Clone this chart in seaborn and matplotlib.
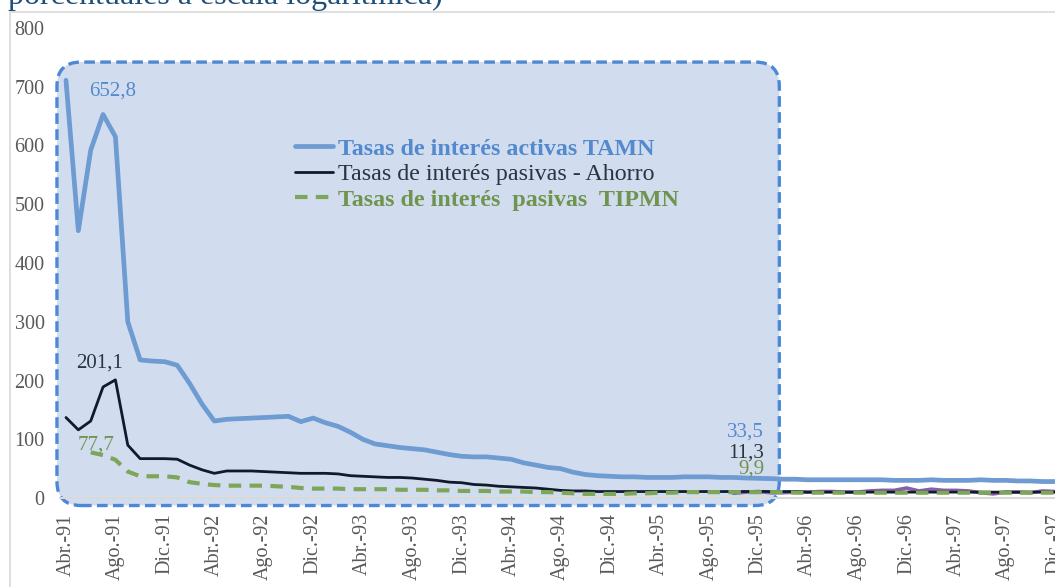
import numpy as np
import pandas as pd
import matplotlib
matplotlib.use("Agg")
import matplotlib.pyplot as plt
import seaborn as sns
from matplotlib.patches import FancyBboxPatch
from matplotlib.transforms import IdentityTransform
from matplotlib.lines import Line2D

nan = np.nan

# ---------------- data (monthly, Abr-91 .. Dic-97) ----------------
tamn = [711, 455, 592, 652.8, 615, 300, 235, 233, 232, 226, 195, 160, 131, 134, 135, 136,
        137, 138, 139, 130, 136, 128, 122, 112, 100, 92, 89, 86, 84, 82, 78, 74, 71, 70,
        70, 68, 66, 60, 56, 52, 50, 44, 40, 38, 37, 36, 36, 35, 35, 35, 36, 36, 36, 35,
        35, 34, 33.5, 33, 32, 32, 31, 31, 31, 31, 31, 31, 31, 30, 30, 30, 31, 30, 30, 30,
        31, 30, 30, 29, 29, 28, 28]
ahorro = [137, 116, 131, 189, 201.1, 90, 67, 67, 67, 66, 56, 48, 42, 46, 46, 46, 45, 44,
          43, 42, 42, 42, 41, 38, 37, 36, 35, 35, 34, 32, 30, 27, 26, 23, 22, 20, 19, 18,
          17, 15, 13, 12, 12, 11, 11, 11, 11, 11, 11, 11, 11, 11, 11, 11, 11, 11, 11.3,
          11, 11, 11, 10, 10, 10, 10, 10, 10, 10, 10, 10, 10, 10, 10, 10, 10, 10, 10, 10,
          10, 10, 10, 10]
tipmn = [nan, nan, 77.7, 73, 65, 45, 37, 37, 37, 35, 27, 24, 22, 21, 21, 21, 21, 20, 19,
         17, 16, 16, 16, 15, 15, 15, 15, 14, 14, 14, 13, 13, 12, 12, 12, 11, 11, 11, 10,
         10, 9, 8, 7, 7, 7, 7, 8, 8, 9, 9, 10, 10, 10, 10, 10, 10, 9.9,
         10, 10, 9, 9, 9, 9, 9, 9, 9, 9, 9, 9, 9, 9, 9, 9, 9, 9, 9, 9, 9, 9, 9, 9]
otra = [nan] * 54 + [8, 10, 11, 9, 9, 10, 10, 11, 11, 10, 10, 12, 13, 13, 17, 12, 15, 13,
                     13, 12, 9, 7, 10, 10, 9, 12, 11]

tick_labels = ["Abr.-91", "Ago.-91", "Dic.-91", "Abr.-92", "Ago.-92", "Dic.-92",
               "Abr.-93", "Ago.-93", "Dic.-93", "Abr.-94", "Ago.-94", "Dic.-94",
               "Abr.-95", "Ago.-95", "Dic.-95", "Abr.-96", "Ago.-96", "Dic.-96",
               "Abr.-97", "Ago.-97", "Dic.-97"]
tick_step = 4

labels = ["Tasas de interés activas TAMN",
          "Tasas de interés pasivas - Ahorro",
          "Tasas de interés  pasivas  TIPMN"]
title_tail = "porcentuales a escala logarítmica)"

n = len(tamn)
df = pd.DataFrame({"mes": np.arange(n), "tamn": tamn, "ahorro": ahorro,
                   "tipmn": tipmn, "otra": otra})

# ---------------- styling ----------------
sns.set_theme(style="white")
plt.rcParams["font.family"] = ["Liberation Serif", "DejaVu Serif"]

C_BLUE = "#6d9bd2"
C_BLUE_TXT = "#5389cf"
C_DARK = "#0f1b2d"
C_DARK_TXT = "#2a3442"
C_GREEN = "#7ea65b"
C_GREEN_TXT = "#6f944f"
C_PURPLE = "#8760aa"
C_GRAY = "#595959"

W, H = 1055, 587
fig = plt.figure(figsize=(W / 100, H / 100), dpi=100)
fig.patch.set_facecolor("white")

px_per_month = 12.41
x_left_px = 66 - 0.5 * px_per_month
xmax = -0.5 + (W - x_left_px) / px_per_month
ax = fig.add_axes([x_left_px / W, (H - 498) / H, (W - x_left_px) / W, (498 - 28) / H])
ax.set_facecolor("none")

sns.lineplot(data=df, x="mes", y="otra", ax=ax, color=C_PURPLE, lw=2.6, zorder=3)
sns.lineplot(data=df, x="mes", y="tamn", ax=ax, color=C_BLUE, lw=3.4, zorder=4,
             label=labels[0])
sns.lineplot(data=df, x="mes", y="ahorro", ax=ax, color=C_DARK, lw=2.0, zorder=5,
             label=labels[1])
sns.lineplot(data=df, x="mes", y="tipmn", ax=ax, color=C_GREEN, lw=3.0, zorder=6,
             label=labels[2], linestyle=(0, (3, 2)))

ax.set_xlim(-0.5, xmax)
ax.set_ylim(0, 800)
ax.set_yticks(np.arange(0, 801, 100))
ax.set_yticklabels([str(v) for v in range(0, 801, 100)])
ax.set_xticks(np.arange(0, len(tick_labels) * tick_step, tick_step))
ax.set_xticklabels(tick_labels, rotation=90)
ax.tick_params(axis="both", length=0, labelsize=14.5, labelcolor=C_GRAY)
ax.tick_params(axis="y", pad=11)
ax.tick_params(axis="x", pad=11)
ax.set_xlabel("")
ax.set_ylabel("")
for s in ax.spines.values():
    s.set_visible(False)
ax.axhline(0, color="#d9d9d9", lw=1.5, zorder=2, clip_on=False)

# rounded highlight box (drawn in pixel space)
fig.canvas.draw()
(x0, y0) = ax.transData.transform((-0.73, -12.8))
(x1, y1) = ax.transData.transform((57.7, 742))
box = FancyBboxPatch((x0, y0), x1 - x0, y1 - y0,
                     boxstyle="round,pad=0,rounding_size=24",
                     transform=IdentityTransform(), facecolor="#d1ddee",
                     edgecolor="#4d88d6", lw=2.4, linestyle=(0, (3.2, 1.6)),
                     zorder=1, clip_on=False)
ax.add_patch(box)

# legend
leg = ax.legend(loc="upper left", bbox_to_anchor=(295 / W, 1 - 138 / H),
                bbox_transform=fig.transFigure, frameon=False, fontsize=17.3,
                handlelength=1.6, handletextpad=0.2, labelspacing=0.15,
                borderpad=0, borderaxespad=0)
txt_colors = [C_BLUE_TXT, C_DARK_TXT, C_GREEN_TXT]
weights = ["bold", "normal", "bold"]
for t, c, w in zip(leg.get_texts(), txt_colors, weights):
    t.set_color(c)
    t.set_fontweight(w)
leg.set_zorder(10)

# value annotations
ann = dict(textcoords="offset pixels", fontsize=15, zorder=11)
ax.annotate("652,8", xy=(3, tamn[3]), xytext=(10, 23), ha="center", va="center",
            color=C_BLUE_TXT, **ann)
ax.annotate("201,1", xy=(4, ahorro[4]), xytext=(-16, 17), ha="center", va="center",
            color=C_DARK_TXT, **ann)
ax.annotate("77,7", xy=(2, tipmn[2]), xytext=(5, 7), ha="center", va="center",
            color=C_GREEN_TXT, **ann)
ax.annotate("33,5", xy=(56, tamn[56]), xytext=(6, 46), ha="right", va="center",
            color=C_BLUE_TXT, **ann)
ax.annotate("11,3", xy=(56, ahorro[56]), xytext=(6, 38), ha="right", va="center",
            color=C_DARK_TXT, **ann)
ax.annotate("9,9", xy=(56, tipmn[56]), xytext=(6, 23), ha="right", va="center",
            color=C_GREEN_TXT, **ann)

# chart-area border and cut-off title
fig.add_artist(Line2D([10 / W, 1], [1 - 12 / H, 1 - 12 / H], transform=fig.transFigure,
                      color="#d9d9d9", lw=1.2))
fig.add_artist(Line2D([10 / W, 10 / W], [0, 1 - 12 / H], transform=fig.transFigure,
                      color="#d9d9d9", lw=1.2))
fig.text(8 / W, 1 - 4 / H, title_tail, fontsize=23, color="#1f4e79",
         ha="left", va="baseline")

fig.savefig("out.png", dpi=100)
